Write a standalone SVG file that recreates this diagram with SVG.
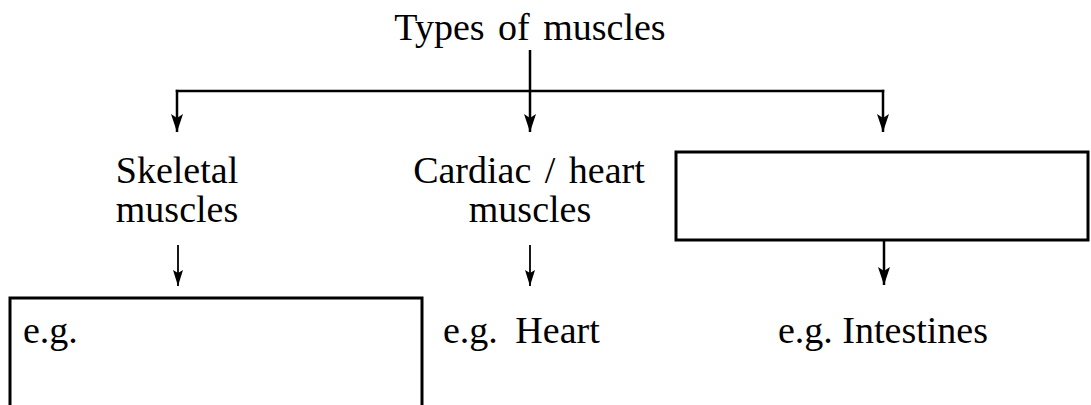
<svg xmlns="http://www.w3.org/2000/svg" width="1091" height="405" viewBox="0 0 1091 405">
<style>
text{font-family:"Liberation Serif","Times New Roman",serif;font-size:38px;fill:#000;text-anchor:middle}
.ln{stroke:#000;stroke-width:2.5;fill:none}
.thin{stroke:#000;stroke-width:1.8;fill:none}
.box{stroke:#000;stroke-width:3;fill:#fff}
</style>
<defs>
<marker id="ah" viewBox="0 -6 18 12" refX="18" refY="0" markerWidth="18" markerHeight="12" markerUnits="userSpaceOnUse" orient="auto">
<path d="M0,-6 L18,0 L0,6 L4,0 z" fill="#000"/>
</marker>
<marker id="ahs" viewBox="0 -5 16 10" refX="16" refY="0" markerWidth="16" markerHeight="10" markerUnits="userSpaceOnUse" orient="auto">
<path d="M0,-5 L16,0 L0,5 L3,0 z" fill="#000"/>
</marker>
</defs>
<rect width="1091" height="405" fill="#fff"/>
<g id="connectors">
<line class="ln" x1="530" y1="50" x2="530" y2="91"/>
<polyline class="ln" points="177,92 177,91 883,91 883,92"/>
<line class="ln" x1="177" y1="89.8" x2="177" y2="132" marker-end="url(#ah)"/>
<line class="ln" x1="530" y1="91" x2="530" y2="132" marker-end="url(#ah)"/>
<line class="ln" x1="883" y1="89.8" x2="883" y2="132" marker-end="url(#ah)"/>
<line class="thin" x1="178" y1="245" x2="178" y2="286" marker-end="url(#ahs)"/>
<line class="thin" x1="530" y1="245" x2="530" y2="286" marker-end="url(#ahs)"/>
<line class="ln" x1="884" y1="240" x2="884" y2="285" marker-end="url(#ah)"/>
</g>
<g id="title"><text x="530" y="40" word-spacing="4">Types of muscles</text></g>
<g id="skeletal"><text x="177" y="183">Skeletal</text><text x="177" y="222">muscles</text></g>
<g id="cardiac"><text x="529" y="183" word-spacing="4">Cardiac / heart</text><text x="530" y="222">muscles</text></g>
<g id="blank-box"><rect class="box" x="676" y="152" width="412" height="88"/></g>
<g id="skeletal-example"><rect class="box" x="10" y="298" width="412" height="130"/><text x="23" y="343" style="text-anchor:start">e.g.</text></g>
<g id="heart-example"><text x="443" y="343" style="text-anchor:start" word-spacing="8">e.g. Heart</text></g>
<g id="intestine-example"><text x="883" y="343">e.g. Intestines</text></g>
</svg>
